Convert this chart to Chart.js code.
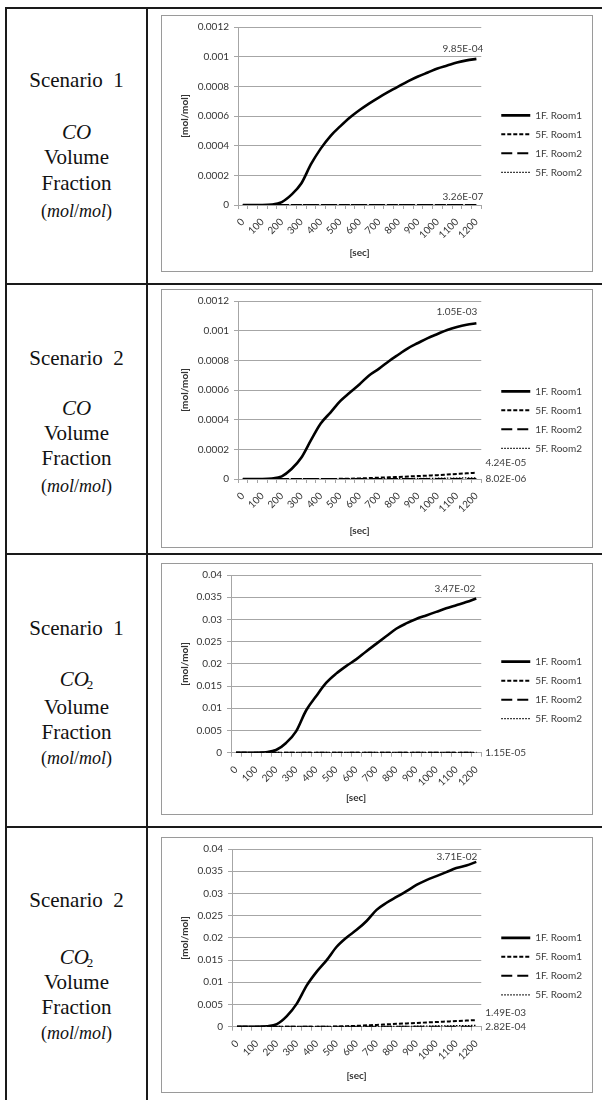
<!DOCTYPE html>
<html>
<head>
<meta charset="utf-8">
<script src="https://cdn.jsdelivr.net/npm/chart.js@4.4.1/dist/chart.umd.min.js"></script>
<style>
  body { margin: 0; background: #fff; width: 602px; height: 1100px; position: relative; overflow: hidden; color: #111; }
  .hl { position: absolute; background: #1a1a1a; }
  .lbl { position: absolute; left: 6px; width: 141px; text-align: center; font-family: "Liberation Serif", "DejaVu Serif", serif; font-size: 21px; line-height: 24px; transform: translateY(-50%); white-space: nowrap; }
  .lbl.unit { font-size: 18px; }
  .lbl sub { font-size: 13px; vertical-align: -3px; margin-left: -2px; }
  .box { position: absolute; left: 161px; width: 430px; border: 1px solid #9a9a9a; }
  canvas { display: block; }
</style>
</head>
<body>

<!-- table rules -->
<div class="hl" style="left:6px;top:7px;width:596px;height:2px"></div>
<div class="hl" style="left:6px;top:283px;width:596px;height:2px"></div>
<div class="hl" style="left:6px;top:553px;width:596px;height:2px"></div>
<div class="hl" style="left:6px;top:826px;width:596px;height:2px"></div>
<div class="hl" style="left:5px;top:7px;width:2px;height:1093px"></div>
<div class="hl" style="left:146px;top:7px;width:2px;height:1093px"></div>

<!-- row captions -->
<div class="lbl" style="top:80px">Scenario&nbsp;&nbsp;1</div>
<div class="lbl" style="top:132px"><i>CO</i></div>
<div class="lbl" style="top:157px">Volume</div>
<div class="lbl" style="top:183px">Fraction</div>
<div class="lbl unit" style="top:211px">(<i>mol</i>/<i>mol</i>)</div>

<div class="lbl" style="top:358px">Scenario&nbsp;&nbsp;2</div>
<div class="lbl" style="top:408px"><i>CO</i></div>
<div class="lbl" style="top:433px">Volume</div>
<div class="lbl" style="top:458px">Fraction</div>
<div class="lbl unit" style="top:486px">(<i>mol</i>/<i>mol</i>)</div>

<div class="lbl" style="top:628px">Scenario&nbsp;&nbsp;1</div>
<div class="lbl" style="top:682px"><i>CO</i><sub>2</sub></div>
<div class="lbl" style="top:707px">Volume</div>
<div class="lbl" style="top:732px">Fraction</div>
<div class="lbl unit" style="top:758px">(<i>mol</i>/<i>mol</i>)</div>

<div class="lbl" style="top:900px">Scenario&nbsp;&nbsp;2</div>
<div class="lbl" style="top:960px"><i>CO</i><sub>2</sub></div>
<div class="lbl" style="top:982px">Volume</div>
<div class="lbl" style="top:1007px">Fraction</div>
<div class="lbl unit" style="top:1033px">(<i>mol</i>/<i>mol</i>)</div>

<div class="box" style="top:15px"><canvas id="c1" width="430" height="255"></canvas></div>
<div class="box" style="top:289px"><canvas id="c2" width="430" height="257"></canvas></div>
<div class="box" style="top:563px"><canvas id="c3" width="430" height="250"></canvas></div>
<div class="box" style="top:837px"><canvas id="c4" width="430" height="254"></canvas></div>

<script>
// time axis [sec]
const secs = [0, 50, 100, 150, 200, 250, 300, 350, 400, 450, 500, 550, 600,
              650, 700, 750, 800, 850, 900, 950, 1000, 1050, 1100, 1150, 1200];
const seriesNames = ['1F. Room1', '5F. Room1', '1F. Room2', '5F. Room2'];

// CO volume fraction, scenario 1
const coS1_1FR1 = [0, 0, 0, 0.000003, 0.00002, 0.00007, 0.000145, 0.000275, 0.00038, 0.000465, 0.00053, 0.00059, 0.00064,
                   0.000685, 0.000726, 0.000764, 0.0008, 0.000835, 0.000866, 0.000893, 0.00092, 0.00094, 0.00096, 0.000975, 0.000985];
const coS1_5FR1 = [0, 0, 0, 0, 0, 0, 0, 0, 0, 0, 0, 0, 0,
                   0, 0.00000001, 0.00000002, 0.00000004, 0.00000006, 0.00000009, 0.00000012, 0.00000016, 0.0000002, 0.00000024, 0.00000028, 0.000000326];
const coS1_1FR2 = [0, 0, 0, 0, 0, 0, 0, 0, 0, 0, 0, 0, 0, 0, 0, 0, 0, 0, 0, 0, 0, 0, 0, 0, 0];
const coS1_5FR2 = [0, 0, 0, 0, 0, 0, 0, 0, 0, 0, 0, 0, 0, 0, 0, 0, 0, 0, 0, 0, 0, 0, 0, 0, 0];

// CO volume fraction, scenario 2
const coS2_1FR1 = [0, 0, 0, 0.000003, 0.000018, 0.000067, 0.000143, 0.000262, 0.000374, 0.000448, 0.000525, 0.000583, 0.000639,
                   0.0007, 0.000744, 0.000794, 0.000839, 0.000883, 0.000917, 0.00095, 0.000978, 0.001005, 0.001025, 0.00104, 0.00105];
const coS2_5FR1 = [0, 0, 0, 0, 0, 0, 0, 0, 0, 0, 0.000001, 0.000002, 0.000004,
                   0.000006, 0.000009, 0.000011, 0.000014, 0.000017, 0.00002, 0.000023, 0.000026, 0.00003, 0.000034, 0.000038, 0.0000424];
const coS2_1FR2 = [0, 0, 0, 0, 0, 0, 0, 0, 0, 0, 0, 0, 0, 0, 0, 0, 0, 0, 0, 0, 0, 0, 0, 0, 0];
const coS2_5FR2 = [0, 0, 0, 0, 0, 0, 0, 0, 0, 0, 0, 0, 0.0000005,
                   0.000001, 0.0000015, 0.000002, 0.0000025, 0.000003, 0.0000036, 0.0000042, 0.0000049, 0.0000056, 0.0000064, 0.0000072, 0.00000802];

// CO2 volume fraction, scenario 1
const co2S1_1FR1 = [0, 0, 0, 0.0001, 0.0006, 0.0022, 0.0048, 0.0095, 0.0127, 0.0157, 0.0178, 0.0195, 0.021,
                    0.0228, 0.0245, 0.0262, 0.0279, 0.0291, 0.0301, 0.0309, 0.0317, 0.0325, 0.0332, 0.0339, 0.0347];
const co2S1_5FR1 = [0, 0, 0, 0, 0, 0, 0, 0, 0, 0, 0, 0, 0,
                    0, 0.0000005, 0.000001, 0.0000015, 0.000002, 0.000003, 0.000004, 0.000005, 0.0000065, 0.000008, 0.0000097, 0.0000115];
const co2S1_1FR2 = [0, 0, 0, 0, 0, 0, 0, 0, 0, 0, 0, 0, 0, 0, 0, 0, 0, 0, 0, 0, 0, 0, 0, 0, 0];
const co2S1_5FR2 = [0, 0, 0, 0, 0, 0, 0, 0, 0, 0, 0, 0, 0, 0, 0, 0, 0, 0, 0, 0, 0, 0, 0, 0, 0];

// CO2 volume fraction, scenario 2
const co2S2_1FR1 = [0, 0, 0, 0.0001, 0.0006, 0.0024, 0.0052, 0.0093, 0.0124, 0.015, 0.018, 0.0201, 0.0218,
                    0.0238, 0.0263, 0.0279, 0.0292, 0.0305, 0.0319, 0.033, 0.0339, 0.0348, 0.0357, 0.0363, 0.0371];
const co2S2_5FR1 = [0, 0, 0, 0, 0, 0, 0, 0, 0, 0, 0.00005, 0.00012, 0.0002,
                    0.0003, 0.0004, 0.00052, 0.00064, 0.00074, 0.00085, 0.00095, 0.00105, 0.00116, 0.00127, 0.00138, 0.00149];
const co2S2_1FR2 = [0, 0, 0, 0, 0, 0, 0, 0, 0, 0, 0, 0, 0, 0, 0, 0, 0, 0, 0, 0, 0, 0, 0, 0, 0];
const co2S2_5FR2 = [0, 0, 0, 0, 0, 0, 0, 0, 0, 0, 0, 0, 0,
                    0, 0.00002, 0.00004, 0.00006, 0.00008, 0.0001, 0.00013, 0.00016, 0.00019, 0.00022, 0.00025, 0.000282];

// y axis ranges
const coAxis = { max: 0.0012, step: 0.0002 };
const co2Axis = { max: 0.04, step: 0.005 };

const lineStyles = [
  { borderWidth: 2.6, borderDash: [] },
  { borderWidth: 2, borderDash: [4, 2] },
  { borderWidth: 2, borderDash: [11, 5] },
  { borderWidth: 1.3, borderDash: [1.5, 1.5] }
];

Chart.defaults.font.family = 'Lato';
Chart.defaults.font.size = 10;
Chart.defaults.color = '#404040';

// 9.85E-04 style
function sci(v) {
  const parts = v.toExponential(2).split('e');
  const n = parseInt(parts[1], 10);
  return parts[0] + 'E' + (n < 0 ? '-' : '+') + String(Math.abs(n)).padStart(2, '0');
}

const endLabels = {
  id: 'endLabels',
  afterDatasetsDraw(chart, args, opts) {
    const ctx = chart.ctx;
    ctx.save();
    ctx.font = '10px Lato';
    ctx.fillStyle = '#404040';
    ctx.textBaseline = 'middle';
    (opts.items || []).forEach(it => {
      const meta = chart.getDatasetMeta(it.ds);
      const i = meta.data.length - 1;
      const pt = meta.data[i];
      const txt = sci(chart.data.datasets[it.ds].data[i]);
      if (it.pos === 'above') {
        ctx.textAlign = 'right';
        ctx.fillText(txt, pt.x + it.dx, pt.y - it.dy);
      } else {
        ctx.textAlign = 'left';
        ctx.fillText(txt, pt.x + 9, pt.y + it.dy);
      }
    });
    ctx.restore();
  }
};

// push the legend a little away from the plot
const legendGap = {
  id: 'legendGap',
  afterLayout(chart, args, opts) {
    chart.legend.left += opts.gap;
    chart.legend.right += opts.gap;
  }
};

// legend samples keep the dash pattern of their line
function legendItems(chart) {
  return Chart.defaults.plugins.legend.labels.generateLabels(chart).map((item, i) =>
    Object.assign(item, {
      pointStyle: 'line',
      strokeStyle: '#000',
      lineWidth: lineStyles[i].borderWidth,
      lineDash: lineStyles[i].borderDash
    }));
}

const panels = [
  { id: 'c1', series: [coS1_1FR1, coS1_5FR1, coS1_1FR2, coS1_5FR2], axis: coAxis,
    top: 16, h: 255, plotTop: 26.7, plotBottom: 205, plotLeft: 238, secY: 253,
    labels: [{ ds: 0, pos: 'above', dx: 7, dy: 10 }, { ds: 1, pos: 'above', dx: 7, dy: 8 }] },
  { id: 'c2', series: [coS2_1FR1, coS2_5FR1, coS2_1FR2, coS2_5FR2], axis: coAxis,
    top: 290, h: 257, plotTop: 300.7, plotBottom: 479, plotLeft: 238, secY: 531,
    labels: [{ ds: 0, pos: 'above', dx: 1, dy: 11 }, { ds: 1, pos: 'right', dy: -10 }, { ds: 3, pos: 'right', dy: 1 }] },
  { id: 'c3', series: [co2S1_1FR1, co2S1_5FR1, co2S1_1FR2, co2S1_5FR2], axis: co2Axis,
    top: 564, h: 250, plotTop: 574.3, plotBottom: 752.7, plotLeft: 231, secY: 798,
    labels: [{ ds: 0, pos: 'above', dx: -1, dy: 10 }, { ds: 1, pos: 'right', dy: 0 }] },
  { id: 'c4', series: [co2S2_1FR1, co2S2_5FR1, co2S2_1FR2, co2S2_5FR2], axis: co2Axis,
    top: 838, h: 254, plotTop: 848.7, plotBottom: 1026.7, plotLeft: 232, secY: 1076,
    labels: [{ ds: 0, pos: 'above', dx: 1, dy: 5 }, { ds: 1, pos: 'right', dy: -7 }, { ds: 3, pos: 'right', dy: 1 }] }
];

panels.forEach(p => {
  new Chart(document.getElementById(p.id), {
    type: 'line',
    data: {
      labels: secs,
      datasets: p.series.map((d, k) => ({
        label: seriesNames[k],
        data: d,
        borderColor: '#000',
        backgroundColor: '#000',
        borderWidth: lineStyles[k].borderWidth,
        borderDash: lineStyles[k].borderDash,
        pointRadius: 0,
        cubicInterpolationMode: 'monotone',
        fill: false
      }))
    },
    options: {
      responsive: false,
      animation: false,
      devicePixelRatio: 1,
      layout: {
        padding: { left: 17, top: p.plotTop - p.top, right: 11, bottom: (p.top + p.h) - (p.secY + 8) }
      },
      plugins: {
        legend: {
          position: 'right',
          labels: {
            usePointStyle: true, pointStyle: 'line', pointStyleWidth: 29, padding: 9,
            color: '#404040', font: { size: 10 }, generateLabels: legendItems
          }
        },
        tooltip: { enabled: false },
        endLabels: { items: p.labels },
        legendGap: { gap: 11 }
      },
      scales: {
        x: {
          offset: true,
          grid: { offset: true, drawOnChartArea: false, tickLength: 4, color: '#a6a6a6' },
          border: { color: '#a6a6a6' },
          ticks: {
            autoSkip: false, minRotation: 45, maxRotation: 45, padding: 7, color: '#333',
            callback: function (v, i) { return i % 2 === 0 ? this.getLabelForValue(v) : ''; }
          },
          title: { display: true, text: '[sec]', color: '#333', font: { size: 10, weight: 'bold' }, padding: { top: 0, bottom: 2 } },
          afterFit: s => { s.height = p.secY + 8 - p.plotBottom; }
        },
        y: {
          min: 0,
          max: p.axis.max,
          grid: { color: '#a6a6a6', tickLength: 4 },
          border: { color: '#a6a6a6' },
          ticks: { stepSize: p.axis.step, padding: 5, color: '#333', callback: v => String(parseFloat(v.toFixed(6))) },
          title: { display: true, text: '[mol/mol]', color: '#333', font: { size: 10, weight: 'bold' }, padding: 0 },
          afterFit: s => { s.width = p.plotLeft - 162 - 17; }
        }
      }
    },
    plugins: [endLabels, legendGap]
  });
});
</script>
</body>
</html>
